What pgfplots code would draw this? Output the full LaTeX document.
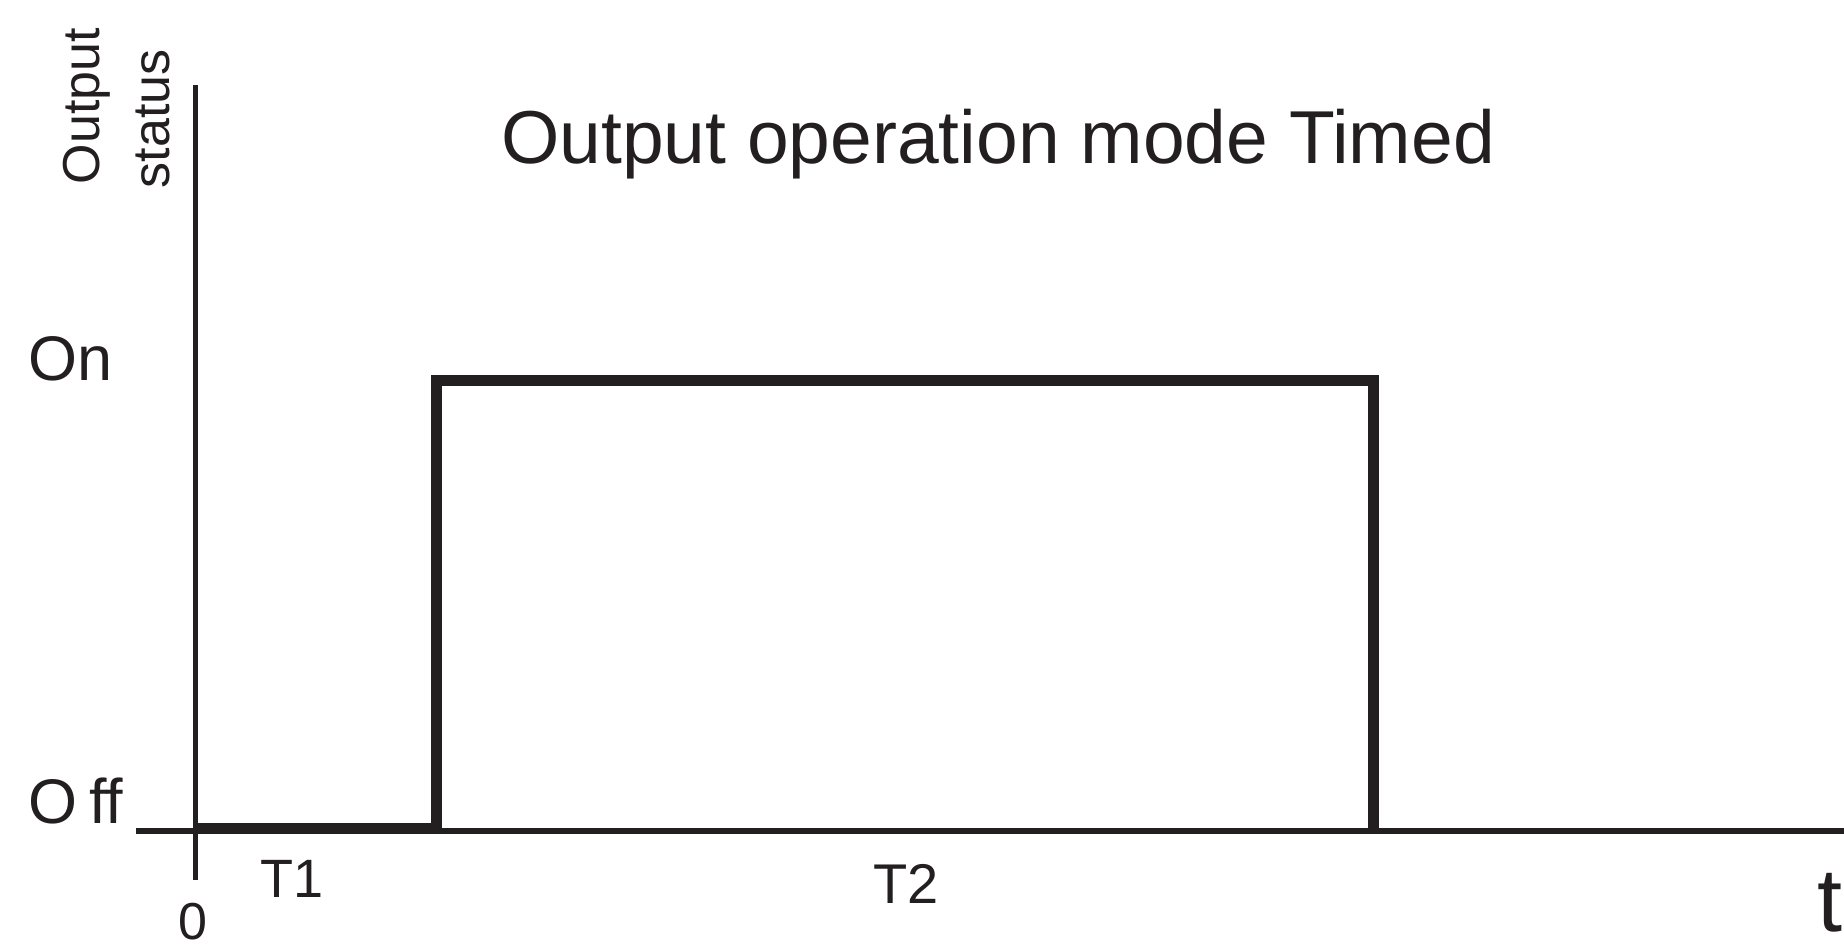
\documentclass[border=0pt]{standalone}
\usepackage{fontspec}
\setmainfont{Liberation Sans}
\usepackage{pgfplots}
\pgfplotsset{compat=1.18}
\definecolor{ink}{HTML}{231F20}
% units: 1 unit = 1 px of the reference = 0.25pt
\begin{document}
\begin{tikzpicture}
  \begin{axis}[
      scale only axis,
      width=427pt, height=198.75pt,
      xmin=-59.5, xmax=1648.5,
      ymin=-49, ymax=746,
      axis lines=middle,
      axis line style={-, ink, line width=1.4pt},
      xtick=\empty, ytick=\empty,
      clip=false,
    ]
    % output status: off -> on -> off
    \addplot[ink, line width=2.75pt, line join=miter, mark=none] coordinates {
      (0,2.5) (241,2.5) (241,451) (1177.5,451) (1177.5,0)
    };
    \node[anchor=base, text=ink, font=\fontsize{18.75pt}{22pt}\selectfont]
      at (axis cs:802.5,668) {Output operation mode Timed};
    \node[anchor=base west, inner sep=0pt, text=ink, font=\fontsize{15.75pt}{18pt}\selectfont]
      at (axis cs:-168,451) {On};
    \node[anchor=base west, inner sep=0pt, text=ink, font=\fontsize{15.75pt}{18pt}\selectfont]
      at (axis cs:-168,8) {O\kern3pt ff};
    \node[anchor=base west, inner sep=0pt, rotate=90, text=ink, font=\fontsize{13pt}{16pt}\selectfont]
      at (axis cs:-95.5,646) {Output};
    \node[anchor=base west, inner sep=0pt, rotate=90, text=ink, font=\fontsize{13pt}{16pt}\selectfont]
      at (axis cs:-25.5,642) {status};
    \node[anchor=base, inner sep=0pt, text=ink, font=\fontsize{13pt}{16pt}\selectfont]
      at (axis cs:-2.5,-108) {0};
    \node[anchor=base west, inner sep=0pt, text=ink, font=\fontsize{13.5pt}{16pt}\selectfont]
      at (axis cs:64,-66) {T1};
    \node[anchor=base west, inner sep=0pt, text=ink, font=\fontsize{14pt}{16pt}\selectfont]
      at (axis cs:677,-72) {T2};
    \node[anchor=base west, inner sep=0pt, text=ink, font=\fontsize{22.5pt}{26pt}\selectfont]
      at (axis cs:1621.5,-100) {t};
    \coordinate (bbsw) at (axis cs:-195.5,-113);
    \coordinate (bbne) at (axis cs:1648.5,831);
  \end{axis}
  \pgfresetboundingbox
  \path[use as bounding box] (bbsw) rectangle (bbne);
\end{tikzpicture}
\end{document}
